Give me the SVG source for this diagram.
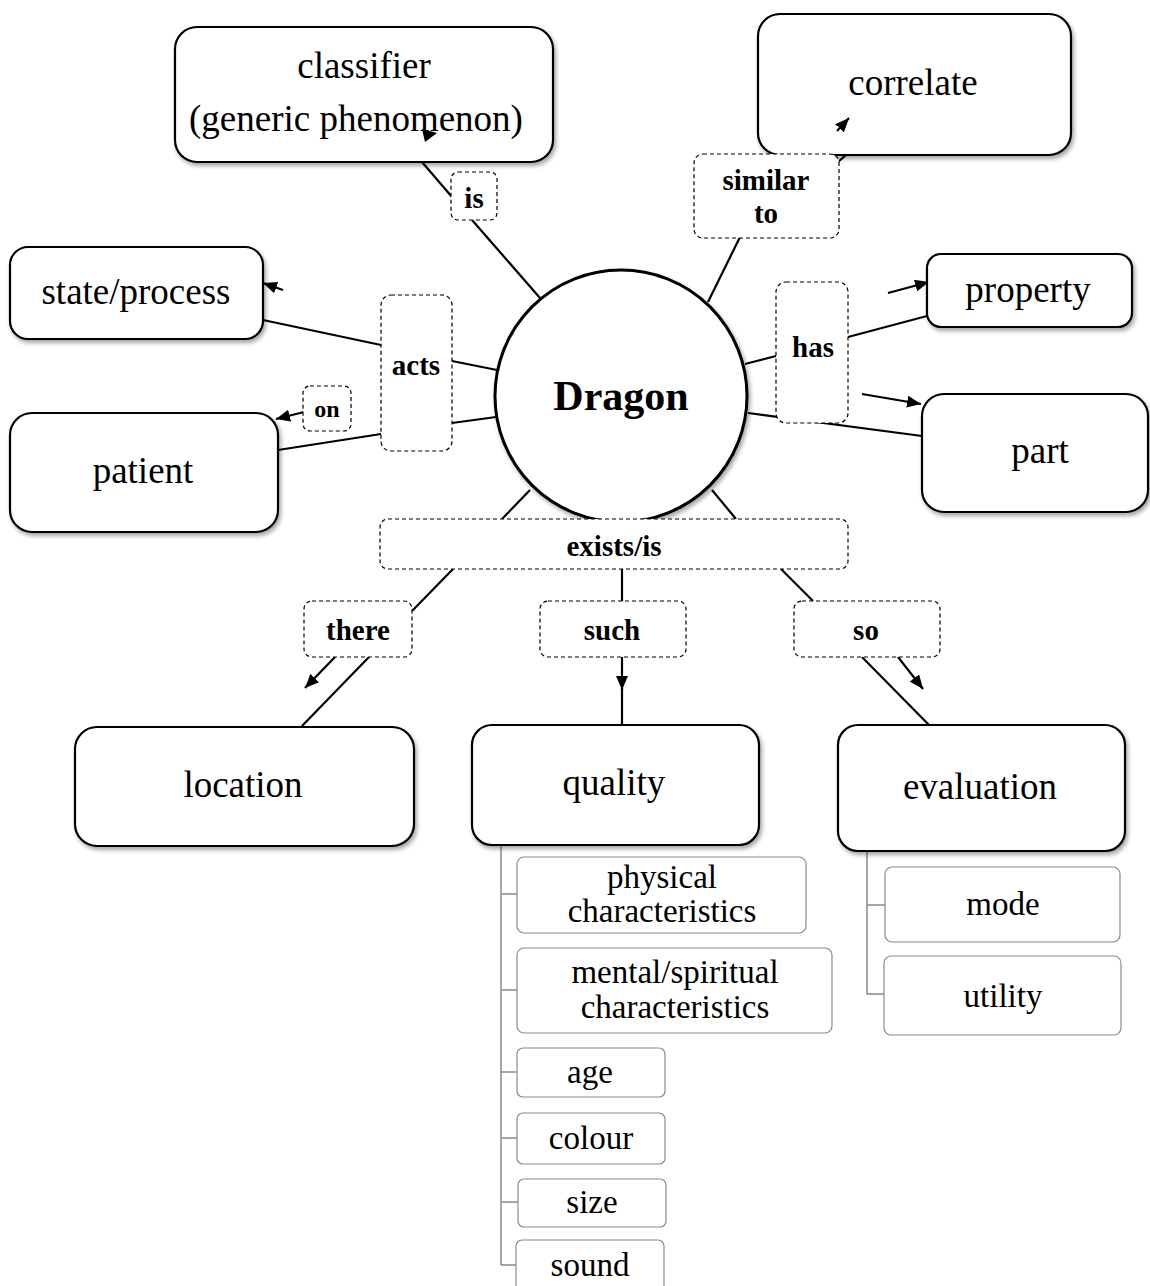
<svg xmlns="http://www.w3.org/2000/svg" width="1150" height="1286" viewBox="0 0 1150 1286">
<defs>
<filter id="sh" x="-10%" y="-10%" width="125%" height="130%">
<feDropShadow dx="2" dy="3" stdDeviation="2" flood-color="#000" flood-opacity="0.35"/>
</filter>
<marker id="ah" markerUnits="userSpaceOnUse" markerWidth="16" markerHeight="12" refX="14" refY="6" orient="auto">
<path d="M0,0 L14,6 L0,12 Z" fill="#000"/>
</marker>
<style>
.node{fill:#fff;stroke:#000;stroke-width:2.2;filter:url(#sh)}
.lbl{fill:#fff;stroke:#000;stroke-width:1.2;stroke-dasharray:4 3}
.sub{fill:#fff;stroke:#8a8a8a;stroke-width:1.2}
.tree{fill:none;stroke:#8a8a8a;stroke-width:1.5}
.t{font-family:"Liberation Serif","Times New Roman",serif;font-size:37px;text-anchor:middle;fill:#000}
.ts{font-family:"Liberation Serif","Times New Roman",serif;font-size:33px;text-anchor:middle;fill:#000}
.tb{font-family:"Liberation Serif","Times New Roman",serif;font-size:29px;font-weight:bold;text-anchor:middle;fill:#000}
.ln{stroke:#000;stroke-width:2.2;fill:none}
.ar{stroke:#000;stroke-width:2.2;fill:none;marker-end:url(#ah)}
</style>
</defs>
<rect width="1150" height="1286" fill="#fff"/>

<g id="connectors">
<line class="ln" x1="422" y1="162" x2="452" y2="197"/>
<line class="ln" x1="472" y1="220" x2="540" y2="298"/>
<line class="ln" x1="708" y1="302" x2="740" y2="237"/>
<line class="ln" x1="838" y1="162" x2="846" y2="155"/>
<line class="ln" x1="263" y1="320" x2="381" y2="345"/>
<line class="ln" x1="452" y1="361" x2="497" y2="370"/>
<line class="ln" x1="278" y1="450" x2="381" y2="434"/>
<line class="ln" x1="452" y1="423" x2="496" y2="417"/>
<line class="ln" x1="745" y1="364" x2="776" y2="356"/>
<line class="ln" x1="848" y1="337" x2="927" y2="316"/>
<line class="ln" x1="748" y1="413" x2="922" y2="436"/>
<line class="ln" x1="530" y1="490" x2="502" y2="519"/>
<line class="ln" x1="712" y1="490" x2="736" y2="519"/>
<line class="ln" x1="453" y1="569" x2="412" y2="611"/>
<line class="ln" x1="369" y1="657" x2="302" y2="726"/>
<line class="ln" x1="622" y1="569" x2="622" y2="601"/>
<line class="ln" x1="622" y1="688" x2="622" y2="725"/>
<line class="ln" x1="781" y1="569" x2="813" y2="601"/>
<line class="ln" x1="862" y1="657" x2="929" y2="725"/>
<line class="ar" x1="283" y1="290" x2="263" y2="283"/>
<line class="ar" x1="304" y1="412" x2="276" y2="419"/>
<line class="ar" x1="888" y1="293" x2="929" y2="282"/>
<line class="ar" x1="862" y1="394" x2="921" y2="404"/>
<line class="ar" x1="335" y1="657" x2="305" y2="688"/>
<line class="ar" x1="622" y1="657" x2="622" y2="690"/>
<line class="ar" x1="898" y1="657" x2="923" y2="689"/>
<path class="tree" d="M501,845 V1265 M501,894 H517 M501,990 H517 M501,1072 H517 M501,1138 H517 M501,1202 H518 M501,1265 H516"/>
<path class="tree" d="M867,851 V994 H884 M867,905 H885"/>
</g>

<g id="classifier"><rect class="node" x="175" y="27" width="378" height="135" rx="22"/>
<text class="t" x="364" y="78">classifier</text>
<text class="t" x="356" y="131">(generic phenomenon)</text></g>
<g id="correlate"><rect class="node" x="758" y="14" width="313" height="141" rx="22"/>
<text class="t" x="913" y="95">correlate</text></g>
<g id="state-process"><rect class="node" x="10" y="247" width="253" height="92" rx="18"/>
<text class="t" x="136" y="304">state/process</text></g>
<g id="patient"><rect class="node" x="10" y="413" width="268" height="119" rx="22"/>
<text class="t" x="143" y="483">patient</text></g>
<g id="property"><rect class="node" x="927" y="254" width="205" height="73" rx="14"/>
<text class="t" x="1028" y="302">property</text></g>
<g id="part"><rect class="node" x="922" y="394" width="226" height="118" rx="22"/>
<text class="t" x="1040" y="463">part</text></g>
<g id="location"><rect class="node" x="75" y="727" width="339" height="119" rx="22"/>
<text class="t" x="243" y="797">location</text></g>
<g id="quality"><rect class="node" x="472" y="725" width="287" height="120" rx="20"/>
<text class="t" x="614" y="795">quality</text></g>
<g id="evaluation"><rect class="node" x="838" y="725" width="287" height="126" rx="20"/>
<text class="t" x="980" y="799">evaluation</text></g>
<g id="dragon"><circle cx="621" cy="396" r="126" fill="#fff" stroke="#000" stroke-width="3" filter="url(#sh)"/>
<text class="t" x="621" y="410" style="font-size:42px;font-weight:bold">Dragon</text></g>

<g id="stray-arrowheads">
<line class="ar" x1="837" y1="131" x2="849" y2="118"/>
<polygon points="422,129 437,133 425,142" fill="#000"/>
</g>

<g id="lbl-is"><rect class="lbl" x="451" y="172" width="46" height="48" rx="7"/><text class="tb" x="474" y="208">is</text></g>
<g id="lbl-similar"><rect class="lbl" x="694" y="154" width="145" height="84" rx="9"/><text class="tb" x="766" y="190">similar</text><text class="tb" x="766" y="223">to</text></g>
<g id="lbl-acts"><rect class="lbl" x="381" y="295" width="71" height="156" rx="10"/><text class="tb" x="416" y="375">acts</text></g>
<g id="lbl-on"><rect class="lbl" x="303" y="386" width="48" height="45" rx="7"/><text class="tb" x="327" y="417" style="font-size:24px">on</text></g>
<g id="lbl-has"><rect class="lbl" x="776" y="282" width="72" height="141" rx="10"/><text class="tb" x="813" y="357">has</text></g>
<g id="lbl-exists"><rect class="lbl" x="380" y="519" width="468" height="50" rx="8"/><text class="tb" x="614" y="556">exists/is</text></g>
<g id="lbl-there"><rect class="lbl" x="304" y="601" width="108" height="56" rx="8"/><text class="tb" x="358" y="640">there</text></g>
<g id="lbl-such"><rect class="lbl" x="540" y="601" width="146" height="56" rx="8"/><text class="tb" x="612" y="640">such</text></g>
<g id="lbl-so"><rect class="lbl" x="794" y="601" width="146" height="56" rx="8"/><text class="tb" x="866" y="640">so</text></g>

<g id="physical"><rect class="sub" x="517" y="857" width="289" height="76" rx="7"/><text class="ts" x="662" y="888">physical</text><text class="ts" x="662" y="922">characteristics</text></g>
<g id="mental"><rect class="sub" x="517" y="948" width="315" height="85" rx="7"/><text class="ts" x="675" y="983">mental/spiritual</text><text class="ts" x="675" y="1018">characteristics</text></g>
<g id="age"><rect class="sub" x="517" y="1048" width="148" height="49" rx="6"/><text class="ts" x="590" y="1083">age</text></g>
<g id="colour"><rect class="sub" x="517" y="1113" width="148" height="51" rx="6"/><text class="ts" x="591" y="1149">colour</text></g>
<g id="size"><rect class="sub" x="518" y="1179" width="148" height="48" rx="6"/><text class="ts" x="592" y="1213">size</text></g>
<g id="sound"><rect class="sub" x="516" y="1240" width="148" height="60" rx="6"/><text class="ts" x="590" y="1276">sound</text></g>
<g id="mode"><rect class="sub" x="885" y="867" width="235" height="75" rx="7"/><text class="ts" x="1003" y="915">mode</text></g>
<g id="utility"><rect class="sub" x="884" y="956" width="237" height="79" rx="7"/><text class="ts" x="1003" y="1007">utility</text></g>
</svg>
